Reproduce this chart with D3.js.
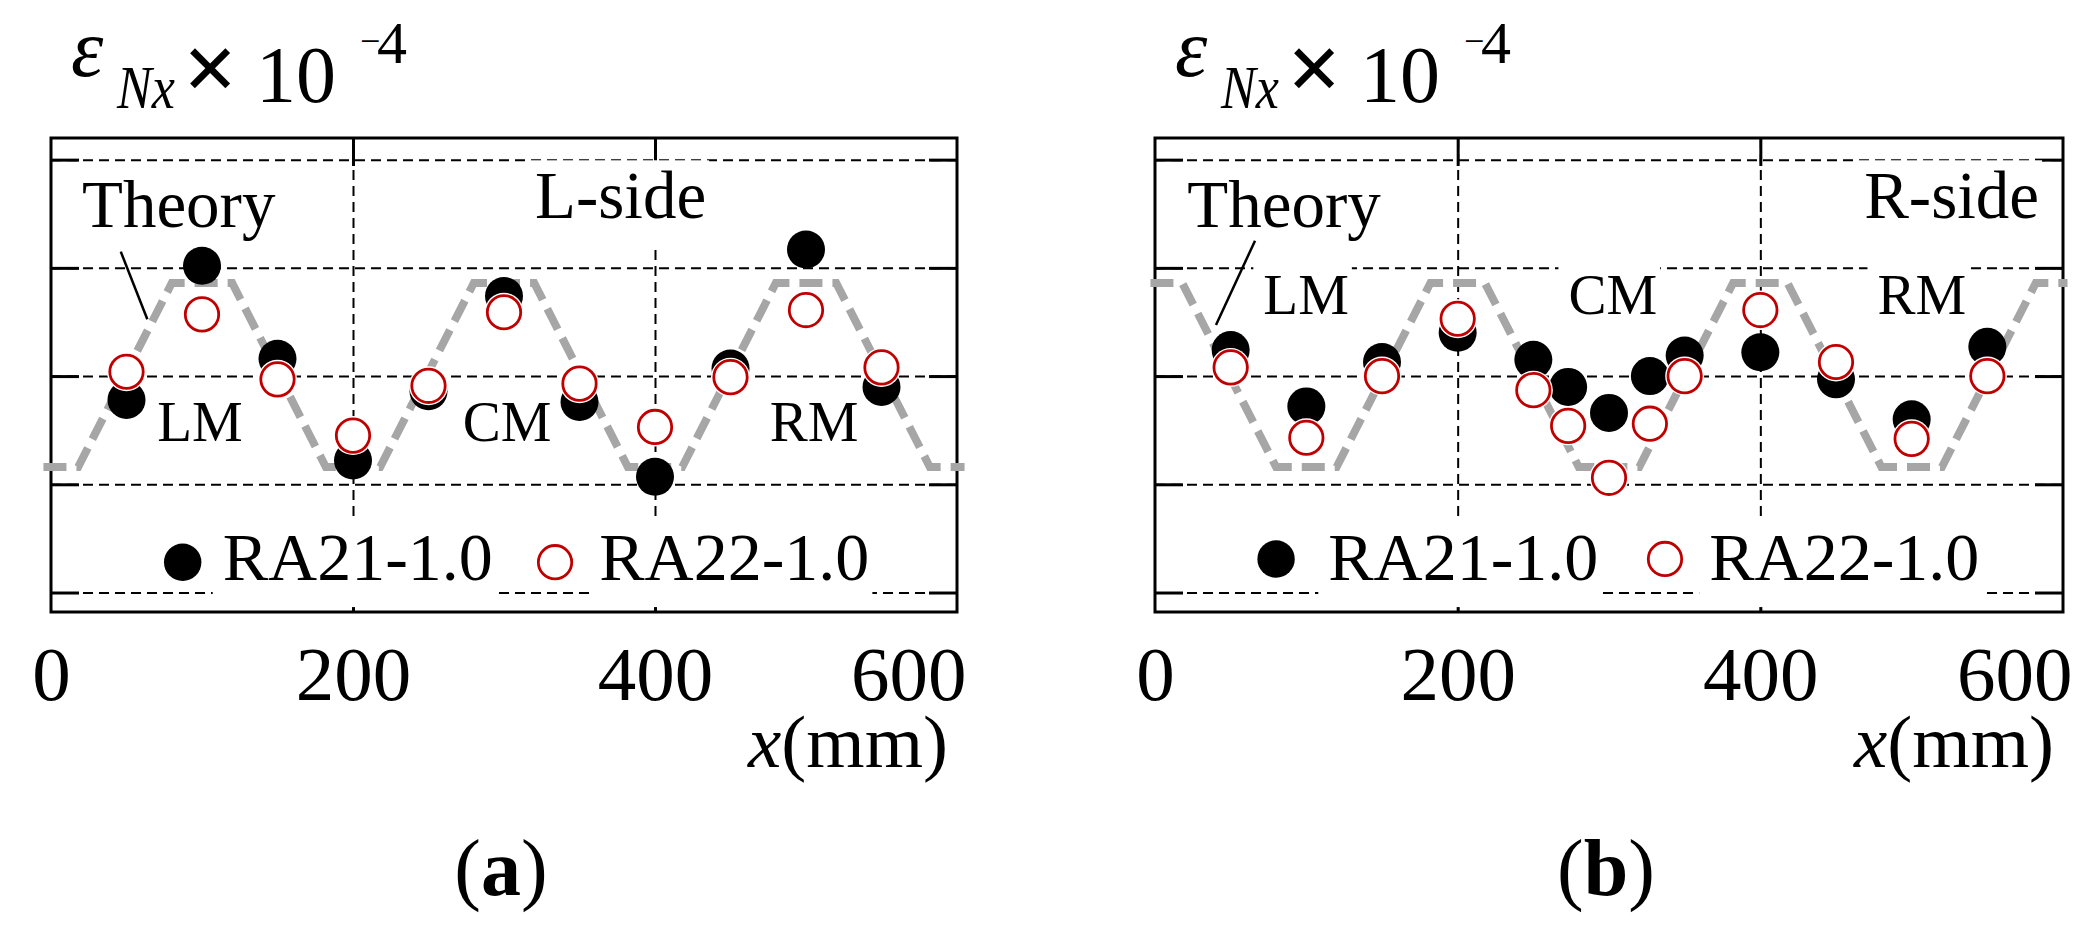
<!DOCTYPE html>
<html>
<head>
<meta charset="utf-8">
<script src="https://cdn.jsdelivr.net/npm/d3@7"></script>
<style>
  body { margin: 0; background: #fff; }
  svg { display: block; font-family: 'Liberation Serif', 'Times New Roman', serif; }
</style>
</head>
<body>
<svg id="chart" width="2099" height="936"></svg>
<script>
'use strict';
// strains in units of one grid step (x10^-4), positions in mm
var xLeft     = [50, 100, 150, 200, 250, 300, 350, 400, 450, 500, 550];
var ra21Left  = [-0.22, 1.02, 0.16, -0.78, -0.14, 0.74, -0.24, -0.93, 0.07, 1.17, -0.10];
var ra22Left  = [0.04, 0.57, -0.03, -0.55, -0.09, 0.59, -0.07, -0.47, -0.01, 0.61, 0.08];

var xRight    = [50, 100, 150, 200, 250, 273, 300, 327, 350, 400, 450, 500, 550];
var ra21Right = [0.24, -0.28, 0.13, 0.40, 0.15, -0.10, -0.34, 0.00, 0.19, 0.22, -0.03, -0.40, 0.27];
var ra22Right = [0.08, -0.57, 0.00, 0.53, -0.13, -0.46, -0.94, -0.44, 0.00, 0.61, 0.13, -0.58, 0.00];

var theoryXLeft  = [-5, 18, 80, 120, 182, 218, 280, 320, 382, 418, 480, 520, 582, 605];
var theoryYLeft  = [-0.84, -0.84, 0.86, 0.86, -0.84, -0.84, 0.86, 0.86, -0.84, -0.84, 0.86, 0.86, -0.84, -0.84];
var theoryXRight = [-3, 18, 80, 120, 182, 218, 280, 320, 382, 418, 480, 520, 582, 603];
var theoryYRight = [0.86, 0.86, -0.84, -0.84, 0.86, 0.86, -0.84, -0.84, 0.86, 0.86, -0.84, -0.84, 0.86, 0.86];

var xTicks = [0, 200, 400, 600];
var xInner = [200, 400];
var yGrid  = [-2, -1, 0, 1, 2];
var seriesNames = ['RA21-1.0', 'RA22-1.0'];

var RED = '#c00000', GREY = '#a6a6a6';
var plotTop = 138, plotBottom = 612;

var panels = [
  { left: 51, right: 957, xs: xLeft, a: ra21Left, b: ra22Left, tx: theoryXLeft, ty: theoryYLeft,
    tag: 'a', side: 'L-side', sideAt: [320.5, 1.458],
    theoryAt: [20.5, 1.38], leader: [[46.2, 1.15], [63.8, 0.525]],
    marks: [['LM', 70.4, -0.597], ['CM', 272.6, -0.597], ['RM', 476, -0.597]],
    legend: { dot: [87.2, -1.72], t1: 113.7, ring: 333.8, t2: 363.1, base: -1.885 } },
  { left: 1155, right: 2063, xs: xRight, a: ra21Right, b: ra22Right, tx: theoryXRight, ty: theoryYRight,
    tag: 'b', side: 'R-side', sideAt: [468.6, 1.458],
    theoryAt: [21.3, 1.38], leader: [[66.1, 1.251], [40.3, 0.472]],
    marks: [['LM', 71.6, 0.574], ['CM', 273.2, 0.574], ['RM', 477.4, 0.574]],
    legend: { dot: [80, -1.69], t1: 114.5, ring: 337, t2: 366.2, base: -1.885 } }
];

var svg = d3.select('#chart');
svg.append('rect').attr('width', 2099).attr('height', 936).attr('fill', '#fff');

panels.forEach(function(p) {
  var x = d3.scaleLinear().domain([0, 600]).range([p.left, p.right]);
  var y = d3.scaleLinear().domain([-2.18, 2.2]).range([plotBottom, plotTop]);
  var w = p.right - p.left, h = plotBottom - plotTop;

  var g = svg.append('g');
  var gridLayer = g.append('g'), tickLayer = g.append('g'), boxLayer = g.append('g'),
      frameLayer = g.append('g'), markLayer = g.append('g'), textLayer = g.append('g');

  // dashed grid
  gridLayer.append('g')
    .attr('transform', 'translate(' + p.left + ',0)')
    .call(d3.axisLeft(y).tickValues(yGrid).tickSize(-w).tickFormat(''));
  gridLayer.append('g')
    .attr('transform', 'translate(0,' + plotTop + ')')
    .call(d3.axisTop(x).tickValues(xInner).tickSize(-h).tickFormat(''));
  gridLayer.selectAll('.domain, text').remove();
  gridLayer.selectAll('line')
    .attr('stroke', '#000').attr('stroke-width', 2).attr('stroke-dasharray', '10,6');

  // solid inner ticks on all four sides
  tickLayer.append('g').attr('transform', 'translate(' + p.left + ',0)')
    .call(d3.axisLeft(y).tickValues(yGrid).tickSize(-28).tickFormat(''));
  tickLayer.append('g').attr('transform', 'translate(' + p.right + ',0)')
    .call(d3.axisRight(y).tickValues(yGrid).tickSize(-28).tickFormat(''));
  tickLayer.append('g').attr('transform', 'translate(0,' + plotTop + ')')
    .call(d3.axisTop(x).tickValues(xInner).tickSize(-28).tickFormat(''));
  tickLayer.append('g').attr('transform', 'translate(0,' + plotBottom + ')')
    .call(d3.axisBottom(x).tickValues(xInner).tickSize(-28).tickFormat(''));
  tickLayer.selectAll('.domain, text').remove();
  tickLayer.selectAll('line').attr('stroke', '#000').attr('stroke-width', 3);

  frameLayer.append('rect')
    .attr('x', p.left).attr('y', plotTop).attr('width', w).attr('height', h)
    .attr('fill', 'none').attr('stroke', '#000').attr('stroke-width', 3);

  // x tick labels
  var xa = frameLayer.append('g').attr('transform', 'translate(0,' + plotBottom + ')')
    .call(d3.axisBottom(x).tickValues(xTicks).tickSize(0).tickFormat(d3.format('d')));
  xa.select('.domain').remove();
  xa.selectAll('text')
    .attr('y', 88).attr('dy', 0).attr('fill', '#000')
    .style('font-family', "'Liberation Serif', serif").style('font-size', '77px');
  xa.selectAll('.tick').filter(function(d) { return d === 600; }).select('text')
    .attr('text-anchor', 'end').attr('x', 9);

  // theory line
  var theory = p.tx.map(function(d, i) { return [d, p.ty[i]]; });
  markLayer.append('path')
    .datum(theory)
    .attr('d', d3.line().x(function(d) { return x(d[0]); }).y(function(d) { return y(d[1]); }))
    .attr('fill', 'none').attr('stroke', GREY).attr('stroke-width', 8)
    .attr('stroke-dasharray', '23,10');

  markLayer.append('line')
    .attr('x1', x(p.leader[0][0])).attr('y1', y(p.leader[0][1]))
    .attr('x2', x(p.leader[1][0])).attr('y2', y(p.leader[1][1]))
    .attr('stroke', '#000').attr('stroke-width', 2.5);

  // measured points
  markLayer.selectAll('circle.ra21')
    .data(p.xs).enter().append('circle')
    .attr('class', 'ra21')
    .attr('cx', function(d) { return x(d); })
    .attr('cy', function(d, i) { return y(p.a[i]); })
    .attr('r', 19).attr('fill', '#000');
  markLayer.selectAll('circle.halo')
    .data(p.xs).enter().append('circle')
    .attr('class', 'halo')
    .attr('cx', function(d) { return x(d); })
    .attr('cy', function(d, i) { return y(p.b[i]); })
    .attr('r', 19.5).attr('fill', '#fff');
  markLayer.selectAll('circle.ra22')
    .data(p.xs).enter().append('circle')
    .attr('class', 'ra22')
    .attr('cx', function(d) { return x(d); })
    .attr('cy', function(d, i) { return y(p.b[i]); })
    .attr('r', 16.7).attr('fill', '#fff').attr('stroke', RED).attr('stroke-width', 2.8);

  // text with white box behind it that hides the grid
  function label(str, mm, v, size, boxed) {
    var t = textLayer.append('text')
      .attr('x', x(mm)).attr('y', y(v))
      .attr('font-size', size).attr('fill', '#000')
      .text(str);
    if (boxed) {
      var b = t.node().getBBox();
      boxLayer.append('rect')
        .attr('x', b.x - 10).attr('y', b.y + 2)
        .attr('width', b.width + 13).attr('height', b.height + 10)
        .attr('fill', '#fff');
    }
    return t;
  }

  label('Theory', p.theoryAt[0], p.theoryAt[1], 67, false);
  label(p.side, p.sideAt[0], p.sideAt[1], 67, true);
  p.marks.forEach(function(m) { label(m[0], m[1], m[2], 57, true); });

  var lg = p.legend;
  markLayer.append('circle')
    .attr('cx', x(lg.dot[0])).attr('cy', y(lg.dot[1])).attr('r', 18.7).attr('fill', '#000');
  markLayer.append('circle')
    .attr('cx', x(lg.ring)).attr('cy', y(lg.dot[1])).attr('r', 16.7)
    .attr('fill', '#fff').attr('stroke', RED).attr('stroke-width', 2.8);
  label(seriesNames[0], lg.t1, lg.base, 68, true);
  label(seriesNames[1], lg.t2, lg.base, 68, true);

  // axis title above the frame
  var title = svg.append('text').attr('fill', '#000');
  title.append('tspan').attr('x', p.left + 20).attr('y', 76)
    .attr('font-size', 82).attr('font-style', 'italic').text('\u03b5');
  title.append('tspan').attr('x', p.left + 66).attr('y', 108)
    .attr('font-size', 62).attr('font-style', 'italic')
    .attr('textLength', 58).attr('lengthAdjust', 'spacingAndGlyphs').text('Nx');
  title.append('tspan').attr('x', p.left + 132).attr('y', 100)
    .attr('font-size', 96).attr('font-weight', 'bold').text('\u00d7');
  title.append('tspan').attr('x', p.left + 205).attr('y', 102)
    .attr('font-size', 80).text('10');
  title.append('tspan').attr('x', p.left + 309).attr('y', 53)
    .attr('font-size', 36).text('\u2212');
  title.append('tspan').attr('x', p.left + 326).attr('y', 63)
    .attr('font-size', 60).text('4');

  var xl = svg.append('text')
    .attr('x', p.right - 9).attr('y', 767)
    .attr('text-anchor', 'end').attr('font-size', 75).attr('fill', '#000');
  xl.append('tspan').attr('font-style', 'italic').text('x');
  xl.append('tspan').text('(mm)');

  var tag = svg.append('text')
    .attr('x', (p.left + p.right) / 2 - 3).attr('y', 895)
    .attr('text-anchor', 'middle').attr('font-size', 80).attr('fill', '#000');
  tag.append('tspan').text('(');
  tag.append('tspan').attr('font-weight', 'bold').text(p.tag);
  tag.append('tspan').text(')');
});
</script>
</body>
</html>
